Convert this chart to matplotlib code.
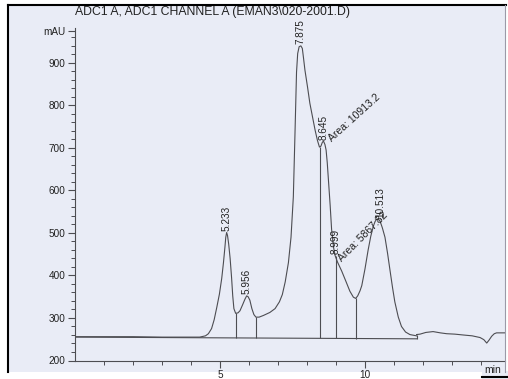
import matplotlib.pyplot as plt
from matplotlib.patches import Rectangle
from matplotlib.lines import Line2D
import numpy as np

plt.rcParams['font.family'] = ['Liberation Sans', 'DejaVu Sans']

# sinal do detector (min, mAU)
tempo = [0, 1, 2, 3, 3.8, 4.3, 4.5, 4.6, 4.71, 4.8, 4.89, 4.98, 5.06, 5.12, 5.17, 5.2,
         5.23, 5.26, 5.3, 5.35, 5.4, 5.44, 5.48, 5.54, 5.62, 5.69, 5.78, 5.86, 5.92,
         5.97, 6.03, 6.1, 6.17, 6.24, 6.35, 6.5, 6.72, 6.9, 7.05, 7.15, 7.25, 7.36,
         7.45, 7.53, 7.59, 7.64, 7.68, 7.73, 7.79, 7.84, 7.88, 7.93, 8.02, 8.1, 8.2,
         8.28, 8.36, 8.43, 8.48, 8.53, 8.57, 8.62, 8.66, 8.7, 8.74, 8.8, 8.85, 8.92,
         8.97, 9.05, 9.2, 9.35, 9.48, 9.6, 9.68, 9.75, 9.83, 9.89, 10.0, 10.11, 10.2,
         10.29, 10.35, 10.4, 10.46, 10.52, 10.6, 10.69, 10.78, 10.86, 10.95, 11.03,
         11.15, 11.26, 11.4, 11.55, 11.78]
sinal = [256, 256, 256, 255, 255, 255, 258, 263, 275, 296, 325, 356, 393, 430, 466, 490,
         501, 494, 474, 440, 395, 352, 322, 311, 312, 317, 331, 344, 352,
         350, 342, 322, 308, 302, 302, 306, 313, 322, 338, 355, 385, 430,
         490, 585, 742, 878, 922, 938, 940, 934, 912, 883, 843, 805, 770,
         742, 718, 702, 704, 713, 716, 708, 695, 665, 625, 565, 508, 465,
         447, 432, 410, 385, 363, 349, 346, 352, 364, 376, 415, 460, 492,
         516, 527, 532, 533, 528, 512, 490, 452, 414, 372, 338,
         302, 280, 267, 261, 258]
# trecho depois da linha de base
tempo2 = [11.78, 11.9, 12.1, 12.35, 12.6, 12.82, 13.1, 13.39, 13.7, 13.97, 14.1, 14.2,
          14.28, 14.37, 14.46, 14.54, 14.85]
sinal2 = [261, 262, 266, 268, 265, 263, 262, 260, 258, 254, 249, 241,
          248, 257, 263, 265, 265]

# linha de base e cortes verticais
base_t = [0, 11.78]
base_v = [255, 251]
corte_t = [5.54, 6.24, 8.45, 8.99, 9.68]
corte_v = [311, 302, 702, 445, 346]

# rótulos dos picos
pico_lbl = ['5.233', '5.956', '7.875', '8.645', '8.999', '10.513']
pico_t = [5.23, 5.93, 7.79, 8.56, 8.99, 10.52]
pico_v = [501, 352, 940, 716, 447, 533]

area_lbl = ['Area: 10913.2', 'Area: 5867.82']
area_t = [8.79, 9.14]
area_v = [719, 437]
area_rot = [42, 45]

W, H = 508, 379
fig = plt.figure(figsize=(W / 100, H / 100), dpi=100, facecolor='white')

fundo = '#e9ecf6'
# area escaneada
fig.patches.append(Rectangle((8 / W, (H - 372) / H), 498 / W, 367 / H,
                             transform=fig.transFigure, facecolor=fundo,
                             edgecolor='none', zorder=-2))
fig.patches.append(Rectangle((482 / W, 0), 26 / W, 8 / H,
                             transform=fig.transFigure, facecolor=fundo,
                             edgecolor='none', zorder=-2))
fig.lines.append(Line2D([8 / W, 506 / W], [(H - 5) / H, (H - 5) / H],
                        transform=fig.transFigure, color='black', lw=1.5))
fig.lines.append(Line2D([7.5 / W, 7.5 / W], [(H - 372) / H, (H - 5) / H],
                        transform=fig.transFigure, color='black', lw=1.5))
fig.lines.append(Line2D([505 / W, 505 / W], [(H - 372) / H, (H - 5) / H],
                        transform=fig.transFigure, color='#9a9aa8', lw=0.8))
fig.lines.append(Line2D([482 / W, 508 / W], [2 / H, 2 / H],
                        transform=fig.transFigure, color='black', lw=1.5))

ax = fig.add_axes([75 / W, (H - 360.5) / H, 430 / W, 332.5 / H])
ax.set_facecolor('none')

cor = '#4d4d52'
ax.plot(tempo, sinal, color=cor, lw=0.8)
ax.plot(tempo2, sinal2, color=cor, lw=0.8)
ax.plot(base_t, base_v, color=cor, lw=0.8)
ax.vlines(corte_t, np.interp(corte_t, base_t, base_v), corte_v, color=cor, lw=0.8)
ax.vlines([base_t[-1]], base_v[-1], 261, color=cor, lw=0.8)

for lbl, t, v in zip(pico_lbl, pico_t, pico_v):
    ax.annotate(lbl, (t, v), xytext=(0, 1), textcoords='offset points',
                rotation=90, ha='center', va='bottom', fontsize=7.2, color='#222222')
for lbl, t, v, r in zip(area_lbl, area_t, area_v, area_rot):
    ax.text(t, v, lbl, rotation=r, rotation_mode='anchor', ha='left', va='center',
            fontsize=7.5, color='#222222')

ax.set_xlim(0, 14.83)
ax.set_ylim(200, 982)
ax.set_yticks([200, 300, 400, 500, 600, 700, 800, 900, 975])
ax.set_yticklabels(['200', '300', '400', '500', '600', '700', '800', '900', 'mAU'])
ax.set_yticks(np.arange(220, 980, 20), minor=True)
ax.set_xticks([5, 10])
ax.set_xticks(np.arange(1, 15, 1), minor=True)

for s in ['top', 'right']:
    ax.spines[s].set_visible(False)
for s in ['left', 'bottom']:
    ax.spines[s].set_color(cor)
    ax.spines[s].set_linewidth(0.8)
ax.tick_params(which='major', length=5, width=0.8, color=cor, labelsize=7.2,
               labelcolor='#222222', pad=2)
ax.tick_params(which='minor', length=3, width=0.7, color=cor)

fig.text(75 / W, (H - 12) / H, 'ADC1 A, ADC1 CHANNEL A (EMAN3\\020-2001.D)',
         fontsize=8.8, ha='left', va='center', color='#222222')
fig.text(484 / W, 4 / H, 'min', fontsize=7.5, ha='left', va='bottom', color='#222222')

fig.savefig('out.png', dpi=100, facecolor='white')
